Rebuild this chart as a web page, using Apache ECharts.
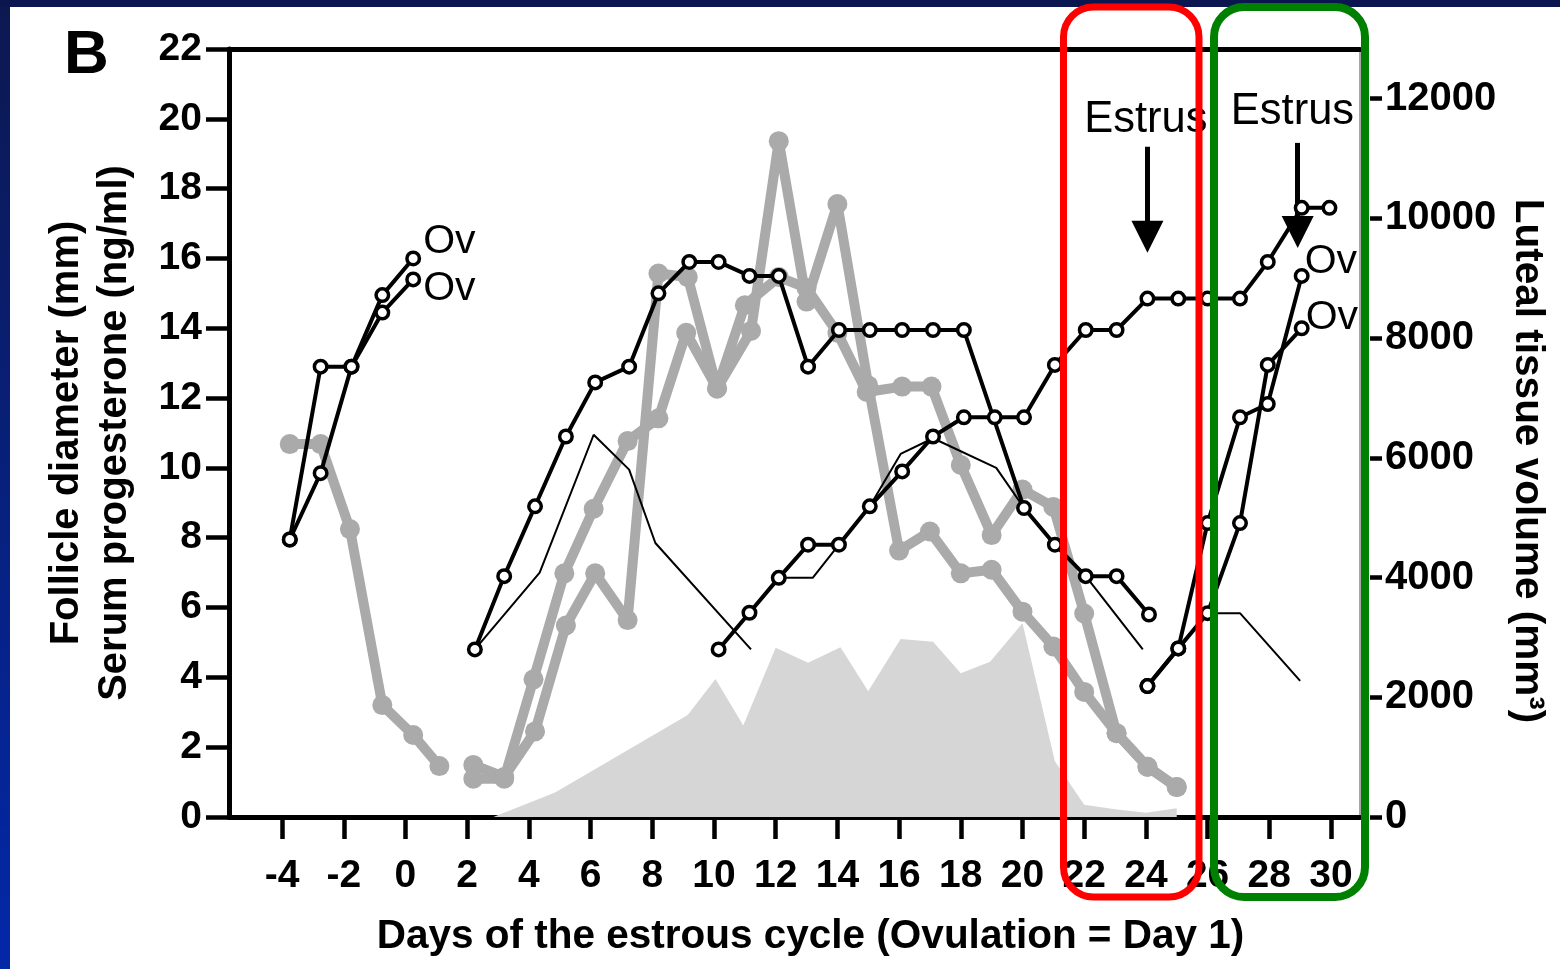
<!DOCTYPE html>
<html><head><meta charset="utf-8">
<script src="https://cdn.jsdelivr.net/npm/echarts@6/dist/echarts.min.js"></script>
<style>html,body{margin:0;padding:0;background:#fff;}#c{width:1560px;height:969px;}</style>
</head><body><div id="c"></div>
<script>
// ---- tick labels ----
const xTickValues = [-4,-2,0,2,4,6,8,10,12,14,16,18,20,22,24,26,28,30];
const leftTickValues = [0,2,4,6,8,10,12,14,16,18,20,22];
const rightTickValues = [0,2000,4000,6000,8000,10000,12000];

// ---- follicle diameter (mm), open circles ----
const ovFollicleA = [[-3.75,7.95],[-2.75,12.9],[-1.75,12.9],[-0.75,14.95],[0.25,16.0]];
const ovFollicleB = [[-3.75,7.95],[-2.75,9.85],[-1.75,12.9],[-0.75,14.45],[0.25,15.4]];
const wave1Follicle = [[2.25,4.8],[3.2,6.9],[4.2,8.9],[5.2,10.9],[6.15,12.45],[7.25,12.9],[8.2,15.0],[9.2,15.9],[10.15,15.9],[11.15,15.5],[12.1,15.5],[13.05,12.9],[14.05,13.95],[15.05,13.95],[16.1,13.95],[17.1,13.95],[18.1,13.95],[20.05,8.85],[21.05,7.8],[22.05,6.9],[23.05,6.9],[24.1,5.8]];
const wave2Follicle = [[10.15,4.8],[11.15,5.85],[12.1,6.85],[13.05,7.8],[14.05,7.8],[15.05,8.9],[16.1,9.9],[17.1,10.9],[18.1,11.45],[19.1,11.45],[20.05,11.45],[21.05,12.95],[22.05,13.95],[23.05,13.95],[24.05,14.85],[25.05,14.85],[26.0,14.85],[27.05,14.85],[27.95,15.9],[29.05,17.45],[29.95,17.45]];
const ovFollicleC = [[24.05,3.75],[25.05,4.83],[26.0,8.42],[27.05,11.45],[27.95,11.83],[29.05,15.5]];
const ovFollicleD = [[24.05,3.75],[25.05,4.83],[26.0,5.84],[27.05,8.42],[27.95,12.95],[29.05,14.0]];

// ---- subordinate follicles (thin lines) ----
const subFollicle1 = [[2.25,4.8],[4.35,7.0],[6.1,10.95],[7.25,9.95],[8.1,7.85],[11.2,4.8]];
const subFollicle2 = [[12.1,6.85],[13.2,6.85],[14.05,7.8],[15.05,8.9],[16.05,10.4],[17.1,10.85],[19.15,10.0],[20.05,8.85],[21.05,7.8],[22.05,6.9],[23.9,4.8]];
const subFollicle3 = [[26.0,5.84],[27.05,5.84],[29.0,3.9]];

// ---- luteal tissue volume (mm3), grey thick lines ----
const lutealPrev = [[-3.75,6230],[-2.75,6230],[-1.8,4810],[-0.75,1870],[0.25,1370],[1.1,850]];
const lutealA = [[2.2,870],[3.2,670],[4.2,1430],[5.2,3200],[6.15,4070],[7.2,3290],[8.2,9080],[9.15,9020],[10.1,7160],[11.0,8550],[12.1,9020],[13.0,8840],[14.0,8090],[14.95,7100],[16.1,7190],[17.05,7190],[18.0,5880],[19.0,4710],[20.0,5470],[21.0,5180],[22.0,3400],[23.05,1400],[24.05,840],[25.0,500]];
const lutealB = [[2.2,640],[3.2,640],[4.15,2300],[5.15,4070],[6.1,5150],[7.2,6280],[8.2,6660],[9.1,8090],[10.1,7160],[11.2,8120],[12.1,11290],[13.0,8610],[14.0,10240],[15.0,7210],[16.0,4450],[17.0,4770],[18.0,4070],[19.0,4130],[20.0,3430],[21.0,2850],[22.0,2090],[23.05,1400],[24.05,840],[25.0,500]];

// ---- serum progesterone (ng/ml), area ----
const progesterone = [[2.85,0],[4.85,0.7],[9.15,2.92],[10.05,3.95],[10.95,2.62],[12.0,4.85],[13.05,4.42],[14.1,4.86],[15.0,3.6],[16.05,5.1],[17.1,5.02],[18.0,4.12],[18.95,4.45],[20.0,5.55],[21.05,1.6],[22.0,0.35],[23.0,0.22],[24.0,0.12],[25.0,0.25]];

// ---- annotations (day, ng/ml-axis level) ----
const estrusLabels = [[24.0,19.98],[28.75,20.2]];
const estrusArrows = [[24.05,19.2,16.62],[28.92,19.31,16.76]];

const FONT = '"Liberation Sans", Arial, Helvetica, sans-serif';
const X_MIN = -5.72, X_MAX = 30.94, L_MAX = 22, R_MAX = 12830;

function withOvLabel(data, offset, dist) {
  return data.map((p, i) => i === data.length - 1 ? {
    value: p,
    label: {show: true, formatter: 'Ov', position: 'right', distance: dist, offset: offset,
      fontFamily: FONT, fontSize: 41, color: '#000'}
  } : p);
}
function openCircle(name, data) {
  return {type: 'line', name, data, xAxisIndex: 0, yAxisIndex: 0, z: 5,
    symbol: 'circle', symbolSize: 12.5, showAllSymbol: true,
    itemStyle: {color: '#fff', borderColor: '#000', borderWidth: 3.5},
    lineStyle: {color: '#000', width: 4}, emphasis: {disabled: true}};
}
function thin(name, data) {
  return {type: 'line', name, data, xAxisIndex: 0, yAxisIndex: 0, z: 4,
    symbol: 'none', lineStyle: {color: '#000', width: 2}, emphasis: {disabled: true}};
}
function grey(name, data) {
  return {type: 'line', name, data, xAxisIndex: 0, yAxisIndex: 1, z: 3,
    symbol: 'circle', symbolSize: 20, showAllSymbol: true,
    itemStyle: {color: '#aaaaaa'},
    lineStyle: {color: '#aaaaaa', width: 10, join: 'round', cap: 'round'}, emphasis: {disabled: true}};
}

const chart = echarts.init(document.getElementById('c'), null, {renderer: 'canvas'});
const tickLabel = {fontFamily: FONT, fontSize: 39, fontWeight: 'bold', color: '#000'};

chart.setOption({
  animation: false,
  backgroundColor: '#ffffff',
  grid: {left: 229, right: 200, top: 49, bottom: 152, containLabel: false},
  xAxis: [{
    type: 'value', min: X_MIN, max: X_MAX, position: 'bottom',
    name: 'Days of the estrous cycle (Ovulation = Day 1)', nameLocation: 'middle', nameGap: 100,
    nameTextStyle: {fontFamily: FONT, fontSize: 40.5, fontWeight: 'bold', color: '#000', lineHeight: 40, padding: [0,0,0,32]},
    axisLine: {show: true, onZero: false, lineStyle: {color: '#000', width: 5}},
    axisTick: {show: true, length: 22, customValues: xTickValues, lineStyle: {color: '#000', width: 4.5}},
    axisLabel: Object.assign({customValues: xTickValues, margin: 40, lineHeight: 39}, tickLabel),
    splitLine: {show: false}
  }, {
    type: 'value', min: X_MIN, max: X_MAX, position: 'top',
    axisLine: {show: true, onZero: false, lineStyle: {color: '#000', width: 5}},
    axisTick: {show: false}, axisLabel: {show: false}, splitLine: {show: false}
  }],
  yAxis: [{
    type: 'value', min: 0, max: L_MAX, interval: 2, position: 'left',
    name: 'Follicle diameter (mm)\nSerum progesterone (ng/ml)', nameLocation: 'middle', nameGap: 90, nameRotate: 90,
    nameTextStyle: {fontFamily: FONT, fontSize: 40, fontWeight: 'bold', color: '#000', lineHeight: 48},
    axisLine: {show: true, onZero: false, lineStyle: {color: '#000', width: 5}},
    axisTick: {show: true, length: 23, customValues: leftTickValues, lineStyle: {color: '#000', width: 4.5}},
    axisLabel: Object.assign({customValues: leftTickValues, margin: 27}, tickLabel),
    splitLine: {show: false}
  }, {
    type: 'value', min: 0, max: R_MAX, position: 'right', offset: 10,
    name: 'Luteal tissue volume (mm³)', nameLocation: 'middle', nameGap: 132, nameRotate: -90,
    nameTextStyle: {fontFamily: FONT, fontSize: 40.5, fontWeight: 'bold', color: '#000', lineHeight: 40, padding: [0,0,0,56]},
    axisLine: {show: false, onZero: false},
    axisTick: {show: true, length: 12, customValues: rightTickValues, lineStyle: {color: '#000', width: 4.5}},
    axisLabel: Object.assign({customValues: rightTickValues, margin: 15, formatter: v => String(v)}, tickLabel, {fontSize: 40}),
    splitLine: {show: false}
  }, {
    type: 'value', min: 0, max: L_MAX, position: 'right', offset: 0,
    axisLine: {show: true, onZero: false, lineStyle: {color: '#8a8a8a', width: 1.5}},
    axisTick: {show: false}, axisLabel: {show: false}, splitLine: {show: false}
  }],
  series: [
    {type: 'line', name: 'Serum progesterone', data: progesterone, xAxisIndex: 0, yAxisIndex: 0, z: 1,
      symbol: 'none', lineStyle: {width: 0}, areaStyle: {color: '#d6d6d6', opacity: 1}, emphasis: {disabled: true},
      markLine: {
        silent: true, animation: false, symbol: ['none', 'triangle'], symbolSize: 32,
        lineStyle: {color: '#000', width: 5, type: 'solid'}, label: {show: false},
        data: estrusArrows.map(a => [{coord: [a[0], a[1]]}, {coord: [a[0], a[2]]}])
      }},
    grey('Luteal previous', lutealPrev),
    grey('Luteal A', lutealA),
    grey('Luteal B', lutealB),
    thin('Subordinate 1', subFollicle1),
    thin('Subordinate 2', subFollicle2),
    thin('Subordinate 3', subFollicle3),
    openCircle('Ovulatory A', withOvLabel(ovFollicleA, [-4,-17], 6)),
    openCircle('Ovulatory B', withOvLabel(ovFollicleB, [-4,9], 6)),
    openCircle('Wave 1', wave1Follicle),
    openCircle('Wave 2', wave2Follicle),
    openCircle('Ovulatory C', withOvLabel(ovFollicleC, [-5,-14], 0)),
    openCircle('Ovulatory D', withOvLabel(ovFollicleD, [-4,-11], 0))
  ],
  graphic: [
    {id: 'bl', type: 'rect', left: 0, top: 0, z: 50, shape: {width: 10, height: 969},
      style: {fill: new echarts.graphic.LinearGradient(0, 0, 0, 1, [{offset: 0, color: '#0d1850'}, {offset: 1, color: '#0328a8'}])}},
    {id: 'bt', type: 'rect', left: 0, top: 0, z: 50, shape: {width: 1560, height: 7}, style: {fill: '#0b1650'}},
    {id: 'B', type: 'text', left: 64, top: 25, z: 50, style: {text: 'B', fontFamily: FONT, fontSize: 62, fontWeight: 'bold', fill: '#000'}},
    {id: 'red', type: 'rect', z: 100, shape: {x: 1063.5, y: 7, width: 135.5, height: 890, r: 30},
      style: {fill: 'transparent', stroke: '#ff0000', lineWidth: 7}},
    {id: 'green', type: 'rect', z: 100, shape: {x: 1214, y: 7, width: 151, height: 890, r: 30},
      style: {fill: 'transparent', stroke: '#008000', lineWidth: 8}}
  ]
});

// Estrus labels placed in data coordinates
chart.setOption({
  graphic: estrusLabels.map((p, i) => {
    const px = chart.convertToPixel({xAxisIndex: 0, yAxisIndex: 0}, p);
    return {id: 'estrus' + i, type: 'text', x: px[0], y: px[1], z: 60,
      style: {text: 'Estrus', fontFamily: FONT, fontSize: 43.5, fill: '#000', align: 'center', verticalAlign: 'middle'}};
  })
});
</script></body></html>
